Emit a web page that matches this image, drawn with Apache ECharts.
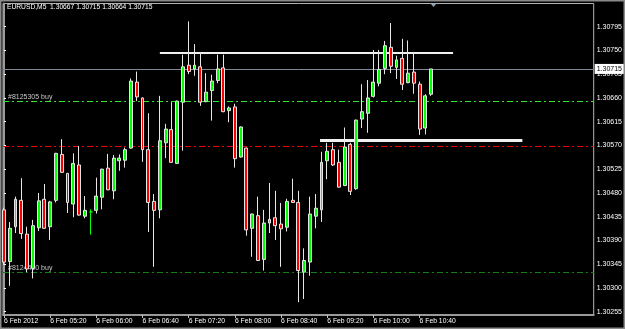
<!DOCTYPE html>
<html>
<head>
<meta charset="utf-8">
<script src="https://cdn.jsdelivr.net/npm/echarts@6/dist/echarts.min.js"></script>
<style>
html,body{margin:0;padding:0;background:#000;}
#main{width:625px;height:329px;}
</style>
</head>
<body>
<div id="main"></div>
<script>
// ---- data (EURUSD M5, 6 Feb 2012, 04:40 .. 10:50) ----
const times = ['04:40','04:45','04:50','04:55','05:00','05:05','05:10','05:15','05:20','05:25',
  '05:30','05:35','05:40','05:45','05:50','05:55','06:00','06:05','06:10','06:15',
  '06:20','06:25','06:30','06:35','06:40','06:45','06:50','06:55','07:00','07:05',
  '07:10','07:15','07:20','07:25','07:30','07:35','07:40','07:45','07:50','07:55',
  '08:00','08:05','08:10','08:15','08:20','08:25','08:30','08:35','08:40','08:45',
  '08:50','08:55','09:00','09:05','09:10','09:15','09:20','09:25','09:30','09:35',
  '09:40','09:45','09:50','09:55','10:00','10:05','10:10','10:15','10:20','10:25',
  '10:30','10:35','10:40','10:45','10:50'];
const open = [1.30448,1.30350,1.30416,1.30466,1.30402,1.30337,1.30414,1.30468,1.30416,1.30466,
  1.30553,1.30517,1.30459,1.30533,1.30436,1.30444,1.30447,1.30472,1.30527,1.30484,
  1.30541,1.30542,1.30565,1.30690,1.30660,1.30562,1.30464,1.30448,1.30575,1.30600,
  1.30536,1.30652,1.30722,1.30715,1.30719,1.30653,1.30674,1.30693,1.30717,1.30636,
  1.30643,1.30548,1.30565,1.30413,1.30437,1.30354,1.30423,1.30433,1.30421,1.30415,
  1.30466,1.30462,1.30330,1.30349,1.30436,1.30448,1.30541,1.30562,1.30538,1.30494,
  1.30572,1.30488,1.30620,1.30631,1.30663,1.30688,1.30716,1.30756,1.30718,1.30735,
  1.30689,1.30709,1.30686,1.30603,1.30667];
const high = [1.30452,1.30425,1.30473,1.30508,1.30416,1.30429,1.30480,1.30497,1.30465,1.30556,
  1.30582,1.30518,1.30555,1.30569,1.30474,1.30449,1.30509,1.30526,1.30554,1.30552,
  1.30553,1.30566,1.30697,1.30710,1.30661,1.30631,1.30478,1.30664,1.30611,1.30652,
  1.30655,1.30742,1.30805,1.30762,1.30746,1.30707,1.30704,1.30742,1.30742,1.30644,
  1.30649,1.30606,1.30566,1.30441,1.30473,1.30448,1.30499,1.30484,1.30461,1.30469,
  1.30507,1.30484,1.30375,1.30473,1.30478,1.30558,1.30575,1.30575,1.30562,1.30604,
  1.30575,1.30619,1.30686,1.30694,1.30751,1.30751,1.30768,1.30802,1.30740,1.30772,
  1.30769,1.30746,1.30691,1.30667,1.30715];
const low = [1.30344,1.30304,1.30404,1.30393,1.30330,1.30318,1.30408,1.30412,1.30391,1.30462,
  1.30518,1.30442,1.30434,1.30437,1.30432,1.30401,1.30441,1.30449,1.30485,1.30468,
  1.30522,1.30528,1.30564,1.30654,1.30539,1.30406,1.30340,1.30432,1.30546,1.30537,
  1.30535,1.30560,1.30705,1.30702,1.30645,1.30652,1.30617,1.30688,1.30633,1.30614,
  1.30528,1.30547,1.30399,1.30359,1.30351,1.30333,1.30404,1.30391,1.30340,1.30407,
  1.30461,1.30273,1.30279,1.30323,1.30413,1.30425,1.30506,1.30531,1.30490,1.30493,
  1.30476,1.30486,1.30603,1.30594,1.30661,1.30682,1.30705,1.30707,1.30696,1.30675,
  1.30688,1.30668,1.30590,1.30591,1.30664];
const close = [1.30349,1.30413,1.30468,1.30403,1.30336,1.30418,1.30465,1.30413,1.30463,1.30555,
  1.30519,1.30462,1.30536,1.30438,1.30447,1.30444,1.30474,1.30525,1.30486,1.30546,
  1.30546,1.30562,1.30692,1.30662,1.30562,1.30462,1.30447,1.30579,1.30601,1.30538,
  1.30654,1.30719,1.30710,1.30722,1.30652,1.30671,1.30692,1.30715,1.30634,1.30641,
  1.30545,1.30605,1.30410,1.30440,1.30352,1.30423,1.30430,1.30418,1.30412,1.30464,
  1.30462,1.30333,1.30352,1.30440,1.30451,1.30538,1.30559,1.30533,1.30491,1.30567,
  1.30483,1.30618,1.30634,1.30660,1.30690,1.30714,1.30759,1.30720,1.30732,1.30686,
  1.30707,1.30688,1.30601,1.30664,1.30715];

const xTickIndex = [0, 8, 16, 24, 32, 40, 48, 56, 64, 72];
const xTickLabels = ['6 Feb 2012','6 Feb 05:20','6 Feb 06:00','6 Feb 06:40','6 Feb 07:20',
  '6 Feb 08:00','6 Feb 08:40','6 Feb 09:20','6 Feb 10:00','6 Feb 10:40'];
const yTicks = [1.30255,1.30300,1.30345,1.30390,1.30435,1.30480,1.30525,1.30570,1.30615,1.30660,1.30705,1.30750,1.30795];

const title = 'EURUSD,M5  1.30667 1.30715 1.30664 1.30715';
const currentPrice = 1.30715;
const orderLines = [
  {name: '#8125305 buy', price: 1.30653, color: '#2ee82e'},
  {name: '#8124410 buy', price: 1.30330, color: '#128012'}
];
const redLevel = 1.30569;
const trendLines = [
  {from: 27, to: 77.8, price: 1.30746, width: 2},
  {from: 54.75, to: 89.8, price: 1.30580, width: 3}
];

// ---- axes extents ----
const X_MIN = -0.1727, X_MAX = 102.16;
const Y_MIN = 1.3024875, Y_MAX = 1.3083896;

// ---- build ----
const candles = times.map((t, i) => [i, open[i], close[i], low[i], high[i]]);
const FONT = 'Tahoma, "Liberation Sans", Arial, sans-serif';
const dashDot = [6, 3, 2, 3];

function hLine(price, lineStyle, label) {
  return [
    {coord: [X_MIN, price], lineStyle: lineStyle, label: label},
    {coord: [X_MAX, price]}
  ];
}

const markData = [];
markData.push(hLine(currentPrice, {color: '#7f8a96', width: 1, type: 'solid'},
  {show: true, position: 'end', distance: 1, formatter: currentPrice.toFixed(5),
    color: '#000', backgroundColor: '#fff', padding: [2, 2, 1, 2], fontSize: 7, fontFamily: FONT}));
orderLines.forEach(o => markData.push(hLine(o.price, {color: o.color, width: 1, type: dashDot},
  {show: true, position: 'insideStartTop', distance: [5, 1], formatter: o.name,
    color: '#c8c8c8', fontSize: 7, fontFamily: FONT})));
markData.push(hLine(redLevel, {color: '#f00000', width: 1, type: dashDot}, {show: false}));
trendLines.forEach(t => markData.push([
  {coord: [t.from, t.price], lineStyle: {color: '#f0f0f0', width: t.width, type: 'solid'}, label: {show: false}},
  {coord: [t.to, t.price]}
]));

const chart = echarts.init(document.getElementById('main'), null, {renderer: 'canvas'});
chart.setOption({
  animation: false,
  backgroundColor: '#000',
  textStyle: {fontFamily: FONT},
  title: {
    text: title, left: 7, top: 4, padding: 0,
    textStyle: {color: '#fff', fontSize: 6.7, fontWeight: 'normal', fontFamily: FONT}
  },
  grid: {left: 3, right: 29.5, top: 3.5, bottom: 14, show: true, borderColor: '#b4b4b4', borderWidth: 1},
  xAxis: {
    type: 'value', min: X_MIN, max: X_MAX,
    splitLine: {show: false},
    axisLine: {show: true, onZero: false, lineStyle: {color: '#9a9a9a', width: 2}},
    axisTick: {show: true, length: 3, customValues: xTickIndex, lineStyle: {color: '#c0c0c0'}},
    axisLabel: {
      customValues: xTickIndex, color: '#fff', fontSize: 6.8, align: 'left', margin: 3,
      formatter: v => xTickLabels[xTickIndex.indexOf(Math.round(v))] || ''
    }
  },
  yAxis: {
    type: 'value', position: 'right', scale: true, min: Y_MIN, max: Y_MAX,
    splitLine: {show: false},
    axisLine: {show: true, lineStyle: {color: '#9a9a9a', width: 2}},
    axisTick: {show: true, length: 2, customValues: yTicks, lineStyle: {color: '#ffffff'}},
    axisLabel: {customValues: yTicks, color: '#fff', fontSize: 7, margin: 3,
      formatter: v => v.toFixed(5)}
  },
  series: [{
    type: 'candlestick',
    data: candles,
    barWidth: 3.4,
    clip: false,
    itemStyle: {
      color: '#00ff00', color0: '#ff0000',
      borderColor: '#e6e6e6', borderColor0: '#e6e6e6',
      borderColorDoji: '#00ff00', borderWidth: 1
    },
    markLine: {
      silent: true, symbol: 'none', z: 1, animation: false,
      data: markData
    }
  }],
  graphic: [
    {type: 'rect', z: 100, shape: {x: 0.5, y: 0.5, width: 624, height: 328},
      style: {fill: null, stroke: '#8a8a8a', lineWidth: 2}},
    {type: 'polygon', z: 100, shape: {points: [[430.5, 3.5], [436.5, 3.5], [433.5, 7]]},
      style: {fill: '#8ea0b8'}}
  ]
});
</script>
</body>
</html>
